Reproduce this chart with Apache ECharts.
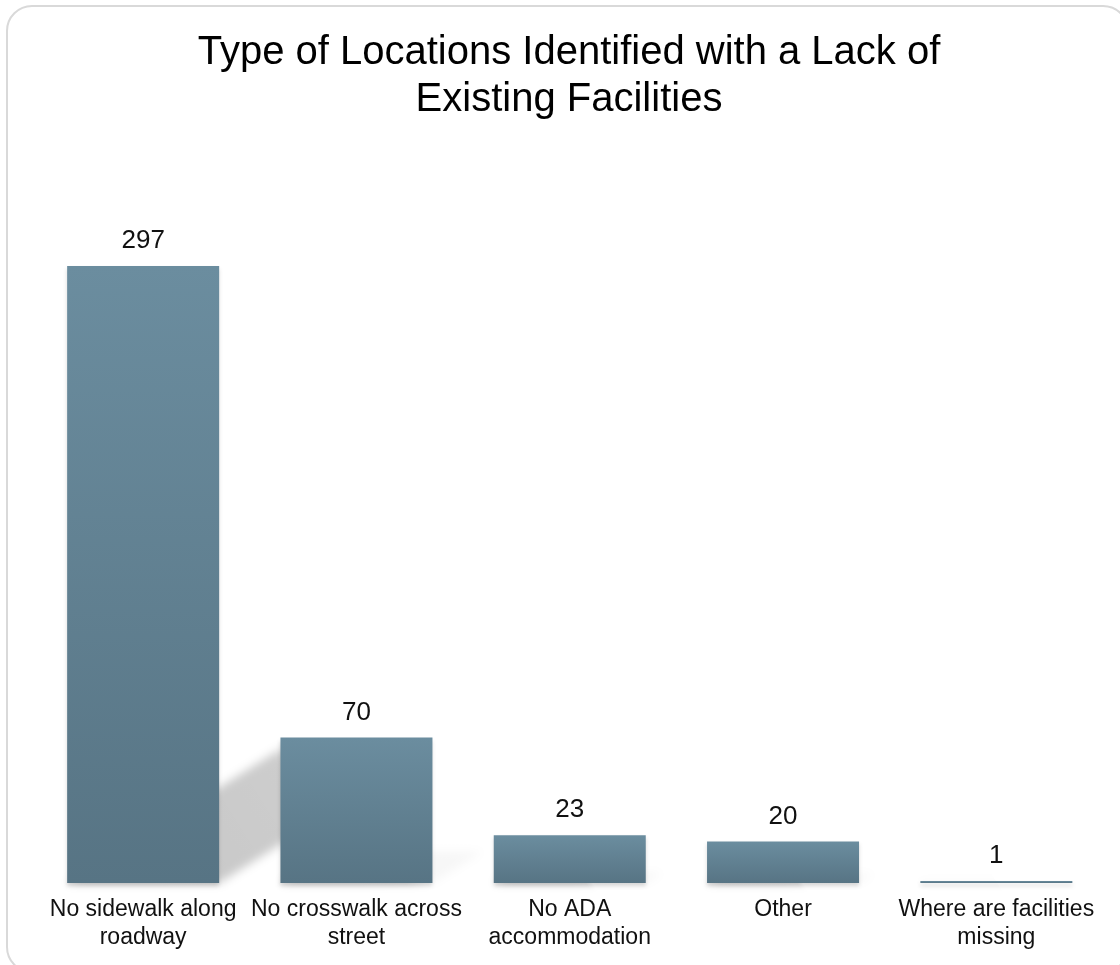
<!DOCTYPE html>
<html>
<head>
<meta charset="utf-8">
<script src="https://cdn.jsdelivr.net/npm/echarts@6/dist/echarts.min.js"></script>
<style>
  html, body { margin: 0; padding: 0; background: #fff; }
  #main { width: 1120px; height: 965px; }
</style>
</head>
<body>
<div id="main"></div>
<script>
// data
var categories = [
  'No sidewalk along\nroadway',
  'No crosswalk across\nstreet',
  'No ADA\naccommodation',
  'Other',
  'Where are facilities\nmissing'
];
var counts = [297, 70, 23, 20, 1];

var BAR_W = 152;
var OFF = 3000; // draw shape off-canvas, keep only its blurred shadow

var chart = echarts.init(document.getElementById('main'));

// perspective shadow behind each bar, length follows bar height
function shadowItem(params, api) {
  var base = api.coord([api.value(0), 0]);
  var top = api.coord([api.value(0), api.value(1)]);
  var h = base[1] - top[1];
  var dx = h * 0.345, dy = h * 0.217;
  var half = BAR_W / 2;
  var x0 = base[0] - half - OFF, x1 = base[0] + half - OFF, y = base[1];
  var cx = base[0] - OFF;
  return {
    type: 'polygon',
    shape: {
      points: [[x0, y], [x1, y], [x1 + dx, y - dy], [x0 + dx, y - dy]]
    },
    style: {
      fill: new echarts.graphic.LinearGradient(cx, y, cx + dx, y - dy, [
        { offset: 0, color: 'rgba(0,0,0,1)' },
        { offset: 0.7, color: 'rgba(0,0,0,0.9)' },
        { offset: 1, color: 'rgba(0,0,0,0.15)' }
      ], true),
      shadowBlur: 10,
      shadowOffsetX: OFF,
      shadowColor: 'rgba(0,0,0,0.22)'
    }
  };
}

var option = {
  backgroundColor: '#fff',
  animation: false,
  graphic: [{
    type: 'rect',
    z: -10,
    shape: { x: 7, y: 6, width: 1121, height: 966, r: 25 },
    style: { fill: '#fff', stroke: '#d9d9d9', lineWidth: 2 }
  }],
  title: {
    text: 'Type of Locations Identified with a Lack of\nExisting Facilities',
    left: 569,
    top: 29,
    padding: 0,
    textAlign: 'center',
    textStyle: {
      fontFamily: 'Liberation Sans',
      fontSize: 40,
      lineHeight: 47,
      fontWeight: 'normal',
      color: '#000'
    }
  },
  grid: { left: 36.5, right: 17, top: 156, bottom: 82 },
  xAxis: {
    type: 'category',
    data: categories,
    axisLine: { show: false },
    axisTick: { show: false },
    axisLabel: {
      interval: 0,
      margin: 13,
      fontFamily: 'Liberation Sans',
      fontSize: 23,
      lineHeight: 28,
      color: '#111'
    }
  },
  yAxis: { type: 'value', min: 0, max: 350, show: false },
  series: [
    {
      type: 'custom',
      z: 1,
      silent: true,
      renderItem: shadowItem,
      data: counts.map(function (v, i) { return [i, v]; })
    },
    {
      type: 'bar',
      z: 2,
      data: counts,
      barWidth: BAR_W,
      itemStyle: {
        color: new echarts.graphic.LinearGradient(0, 0, 0, 1, [
          { offset: 0, color: '#6b8d9f' },
          { offset: 1, color: '#577484' }
        ]),
        shadowColor: 'rgba(0,0,0,0.15)',
        shadowBlur: 4,
        shadowOffsetY: 3
      },
      label: {
        show: true,
        position: 'top',
        distance: 12,
        fontFamily: 'Liberation Sans',
        fontSize: 26,
        color: '#111'
      }
    }
  ]
};

chart.setOption(option);
window.addEventListener('resize', function () {
  chart.resize();
});
</script>
</body>
</html>
